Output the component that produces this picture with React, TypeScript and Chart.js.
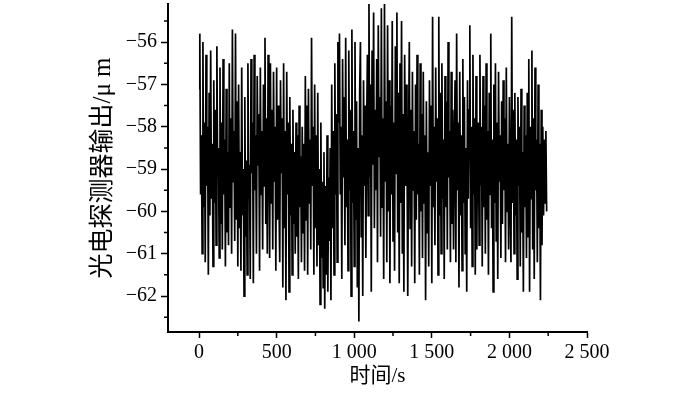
import React, { useEffect, useRef } from "react";
import { Chart, registerables } from "chart.js";

Chart.register(...registerables);

// sample spacing in seconds
const STEP = 5;

// photodetector output (µm), t = 0 … 445 s
const seg1 = [
  -57.1, -55.8, -59.6, -58.2, -61.0, -56.0, -59.9, -57.9,
  -61.2, -56.3, -59.4, -58.0, -61.5, -57.2, -60.1, -56.2, -59.7, -58.4, -61.3, -56.9, -59.8, -57.6,
  -60.8, -56.1, -59.2, -58.5, -61.1, -56.6, -60.3, -57.9, -60.9, -56.4, -59.6, -58.3, -61.3, -57.1, -60.5, -58.6, -60.8, -56.5,
  -59.9, -57.8, -61.0, -55.7, -59.3, -58.1, -60.7, -55.8, -60.2, -57.4, -61.3, -57.0,
  -60.4, -58.6, -61.4, -56.6, -60.1, -59.0, -62.0, -57.3, -60.6, -58.8, -61.5, -56.5, -59.7, -58.9,
  -61.6, -56.4, -59.1, -57.9, -61.7, -56.3, -59.5, -58.2, -61.0, -56.8, -58.9, -57.7, -61.4, -56.6,
  -59.6, -58.1, -60.9, -57.0, -59.4, -55.9, -60.3, -57.8, -61.0, -56.3,
];
// t = 450 … 895 s
const seg2 = [
  -58.2, -61.1, -56.5, -59.8, -57.6, -60.9, -56.7, -59.3, -58.0, -61.4, -56.6, -60.2, -57.5, -59.7, -61.2, -56.9, -59.1, -57.8,
  -61.8, -56.5, -60.4, -58.1, -62.1, -56.7, -59.6, -57.9, -61.9, -57.3, -60.1, -58.4, -61.5,
  -57.6, -60.3, -58.6, -61.0, -57.9, -60.6, -58.2, -61.6, -57.5, -59.9, -58.7, -61.2, -58.0, -60.5, -58.4, -61.4,
  -56.8, -60.2, -57.5, -61.5, -57.1, -59.8, -58.3, -60.9,
  -55.9, -59.4, -58.0,
  -61.5, -57.0, -60.4, -58.2, -61.3, -57.2,
  -60.8, -59.0, -62.2, -57.9, -61.1, -59.3, -61.8, -58.6, -62.3, -59.4, -61.5, -58.2, -61.9, -59.2, -60.7, -58.5, -62.1,
  -57.0, -60.4, -58.1, -61.5, -56.5, -59.6, -57.7, -61.2, -56.0,
];
// t = 900 … 1345 s
const seg3 = [
  -57.9, -55.8, -59.6, -58.0, -61.6, -56.4, -59.2, -57.3, -60.8, -55.9, -59.9, -58.3, -61.4,
  -56.2, -59.5, -57.6, -62.0, -55.7, -59.8, -58.1, -61.3, -56.0, -60.2, -57.4, -61.8, -58.5, -62.6, -57.2,
  -56.0, -60.6, -58.2, -62.0, -56.9, -59.4, -57.5, -61.1, -58.0,
  -56.3, -60.1, -55.1, -59.2,
  -57.0, -61.9, -56.2, -58.9, -55.3, -60.4, -57.6, -59.5, -56.4, -61.2, -55.6, -58.7, -57.3, -60.6, -55.2, -59.9, -57.8, -61.6, -55.1,
  -59.3, -57.4, -61.2, -55.6, -60.0, -56.9, -61.7, -57.5, -59.6, -55.5, -60.7, -57.9, -61.4,
  -56.1, -59.1, -55.3, -60.5, -57.2, -61.7, -56.5, -59.8, -55.5, -61.0, -57.7, -61.9, -56.3, -59.4, -57.0, -58.6, -62.0,
];
// t = 1350 … 1795 s
const seg4 = [
  -58.3, -56.0, -60.4, -57.6, -61.3, -56.7, -59.5, -58.1, -61.7, -57.0,
  -60.2, -56.3, -59.6, -58.4, -61.5, -56.5, -60.0, -57.7, -61.1,
  -56.7, -59.8, -58.2, -62.1, -57.4, -60.5, -58.6,
  -61.3, -56.9, -59.4, -57.5, -61.7, -55.4, -59.9, -58.0, -60.8, -56.6, -59.3, -57.8, -61.5, -55.4, -60.1, -57.2, -61.0, -56.5, -59.7, -58.3, -61.6,
  -56.8, -59.9, -57.4, -60.9, -56.0, -59.2, -58.1, -61.2, -56.7, -60.3, -57.6, -60.9, -58.4, -56.9,
  -61.2, -55.8, -59.5, -57.9, -61.8, -56.7, -60.1, -58.2, -61.4, -56.4,
  -59.8, -57.3, -61.0, -58.5, -61.9, -56.9, -59.7, -57.6, -55.6, -60.4, -58.0, -61.3,
  -56.3, -59.6, -57.8, -61.5, -56.8, -60.9, -58.1,
];
// t = 1800 … 2240 s
const seg5 = [
  -57.9, -60.8, -56.3, -59.4, -58.0, -61.3, -56.8, -59.9, -57.5, -61.0, -56.5,
  -60.2, -58.1, -61.5, -57.2, -59.6, -55.8, -60.4, -58.3, -61.9, -57.0,
  -59.8, -56.5, -60.7, -57.9, -61.6, -56.7, -59.3, -58.2, -61.1, -57.4,
  -60.3, -56.9, -59.5, -57.8, -61.2, -56.6, -60.0, -58.4, -60.9, -57.3, -59.7, -61.2,
  -55.4, -59.8, -57.6,
  -61.0, -57.2, -60.1, -58.3, -61.6, -57.3, -59.4, -58.0, -61.3, -57.1, -60.5, -58.6, -61.9, -57.5, -59.9, -58.2, -61.1, -57.2,
  -60.6, -56.4, -61.9, -58.0, -59.7, -56.2, -60.9, -57.8, -61.6, -56.6, -59.5, -58.3, -61.2,
  -57.0, -60.4, -58.4, -62.1, -57.6, -60.8,
  -58.0, -60.1, -58.3, -59.8, -58.1, -60.0,
];

const xTickValues = [0, 500, 1000, 1500, 2000, 2500];
const xTickLabels = ["0", "500", "1 000", "1 500", "2 000", "2 500"];
const xMinorTicks = [250, 750, 1250, 1750, 2250];
const yTickValues = [-56, -57, -58, -59, -60, -61, -62];
const yTickLabels = ["−56", "−57", "−58", "−59", "−60", "−61", "−62"];
const yMinorTicks = [-55.5, -56.5, -57.5, -58.5, -59.5, -60.5, -61.5, -62.5];

const X_MIN = -200;
const X_MAX = 2500;
const Y_MIN = -62.85;
const Y_MAX = -55.1;

const xTitle = "时间/s";
const yTitle = "光电探测器输出/μ m";

const FONT = "'Liberation Serif', 'Noto Sans CJK SC', serif";

const minorTicksPlugin = {
  id: "minorTicks",
  afterDraw(chart: any) {
    const { ctx, chartArea } = chart;
    const xs = chart.scales.x;
    const ys = chart.scales.y;
    ctx.save();
    ctx.strokeStyle = "#000";
    ctx.lineWidth = 1.5;
    ctx.beginPath();
    xMinorTicks.forEach((v) => {
      const px = xs.getPixelForValue(v);
      ctx.moveTo(px, chartArea.bottom);
      ctx.lineTo(px, chartArea.bottom + 4);
    });
    yMinorTicks.forEach((v) => {
      const py = ys.getPixelForValue(v);
      ctx.moveTo(chartArea.left, py);
      ctx.lineTo(chartArea.left - 4, py);
    });
    ctx.stroke();
    ctx.restore();
  },
};

export default function App() {
  const canvasRef = useRef<HTMLCanvasElement | null>(null);

  useEffect(() => {
    const canvas = canvasRef.current;
    if (!canvas) return;
    const values = [...seg1, ...seg2, ...seg3, ...seg4, ...seg5];
    const points = values.map((v, i) => ({ x: i * STEP, y: v }));

    const chart = new Chart(canvas, {
      type: "line",
      data: {
        datasets: [
          {
            data: points,
            borderColor: "#000",
            borderWidth: 1.7,
            borderJoinStyle: "miter",
            pointRadius: 0,
            tension: 0,
            fill: false,
          },
        ],
      },
      options: {
        animation: false,
        responsive: false,
        devicePixelRatio: 1,
        events: [],
        layout: { padding: { left: 88, top: 4, right: 113, bottom: 0 } },
        plugins: {
          legend: { display: false },
          tooltip: { enabled: false },
          title: { display: false },
        },
        scales: {
          x: {
            type: "linear",
            min: X_MIN,
            max: X_MAX,
            afterBuildTicks: (scale: any) => {
              scale.ticks = xTickValues.map((v) => ({ value: v }));
            },
            afterFit: (scale: any) => {
              scale.height = 62;
              scale.paddingLeft = 0;
              scale.paddingRight = 0;
            },
            border: { display: true, color: "#000", width: 2 },
            grid: {
              display: true,
              drawOnChartArea: false,
              drawTicks: true,
              tickLength: 6,
              tickWidth: 1.5,
              tickColor: "#000",
              color: "#000",
            },
            ticks: {
              color: "#000",
              padding: 3,
              autoSkip: false,
              maxRotation: 0,
              font: { family: FONT, size: 20 },
              callback: (value: any) => xTickLabels[xTickValues.indexOf(Number(value))] ?? "",
            },
            title: {
              display: true,
              text: xTitle,
              color: "#000",
              font: { family: FONT, size: 21 },
              padding: { top: 0, bottom: 5 },
            },
          },
          y: {
            type: "linear",
            min: Y_MIN,
            max: Y_MAX,
            afterBuildTicks: (scale: any) => {
              scale.ticks = yTickValues.map((v) => ({ value: v }));
            },
            afterFit: (scale: any) => {
              scale.width = 80;
              scale.paddingTop = 0;
              scale.paddingBottom = 0;
            },
            border: { display: true, color: "#000", width: 2 },
            grid: {
              display: true,
              drawOnChartArea: false,
              drawTicks: true,
              tickLength: 7,
              tickWidth: 1.5,
              tickColor: "#000",
              color: "#000",
            },
            ticks: {
              color: "#000",
              padding: 4,
              autoSkip: false,
              font: { family: FONT, size: 20 },
              callback: (value: any) => yTickLabels[yTickValues.indexOf(Number(value))] ?? "",
            },
            title: {
              display: true,
              text: yTitle,
              color: "#000",
              font: { family: FONT, size: 25 },
              padding: { top: 0, bottom: 0 },
            },
          },
        },
      },
      plugins: [minorTicksPlugin],
    });

    return () => {
      chart.destroy();
    };
  }, []);

  return (
    <div style={{ position: "fixed", left: 0, top: 0, width: 700, height: 394, background: "#fff" }}>
      <canvas ref={canvasRef} width={700} height={394} style={{ width: 700, height: 394 }} />
    </div>
  );
}
